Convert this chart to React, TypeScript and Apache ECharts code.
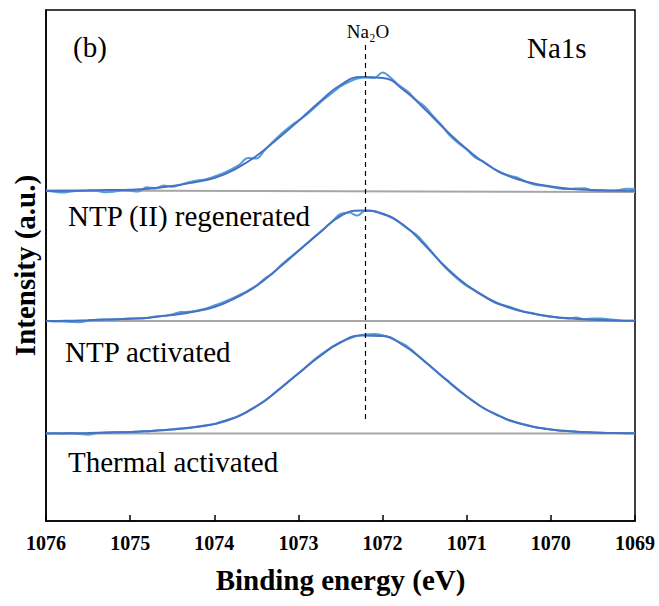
import { useEffect, useRef } from "react";
import * as echarts from "echarts";

// Na 1s XPS spectra, three stacked samples (a.u., each shifted by its baseline offset)
const spectrumNames = ["NTP (II) regenerated", "NTP activated", "Thermal activated"];
const baselineOffsets = [330, 200, 87.5];
// Shirley-type background ends (left at 1076 eV, right at 1069 eV)
const backgroundEnds = [
  [330.5, 329],
  [200, 200],
  [87.5, 87.5],
];
const na2oEnergy = 1072.2;
const xTickLabels = ["1076", "1075", "1074", "1073", "1072", "1071", "1070", "1069"];

// measured energies (0.1 eV step)
const rawEnergy = [
  1076.0, 1075.9, 1075.8, 1075.7, 1075.6, 1075.5, 1075.4, 1075.3, 1075.2, 1075.1,
  1075.0, 1074.9, 1074.8, 1074.7, 1074.6, 1074.5, 1074.4, 1074.3, 1074.2, 1074.1,
  1074.0, 1073.9, 1073.8, 1073.7, 1073.6, 1073.5, 1073.4, 1073.3, 1073.2, 1073.1,
  1073.0, 1072.9, 1072.8, 1072.7, 1072.6, 1072.5, 1072.4, 1072.3, 1072.2, 1072.1,
  1072.0, 1071.9, 1071.8, 1071.7, 1071.6, 1071.5, 1071.4, 1071.3, 1071.2, 1071.1,
  1071.0, 1070.9, 1070.8, 1070.7, 1070.6, 1070.5, 1070.4, 1070.3, 1070.2, 1070.1,
  1070.0, 1069.9, 1069.8, 1069.7, 1069.6, 1069.5, 1069.4, 1069.3, 1069.2, 1069.1,
  1069.0,
];

const rawRegenerated = [
  0.5, -0.8, -1.5, -0.5, 0.3, 0.6, 0.2, -1.2, -0.8, 0.6,
  0.2, -0.5, 3.8, 2.5, 5.6, 4.2, 6.2, 8.8, 10.5, 11.8,
  14.5, 17.5, 21.5, 26.5, 33, 32.5, 41, 49.5, 57.5, 64.5,
  70.5, 76.5, 84, 91.5, 98, 104.5, 109, 112.5, 113.5, 113,
  118.5, 113, 105.5, 99.5, 91, 84.5, 75, 66, 55.5, 48,
  41.5, 33.5, 29.5, 23.5, 18.5, 15.5, 13.5, 9.5, 6.5, 5.5,
  4, 2.5, 2, 2.5, 2.8, 0.2, 0.5, 0.2, 0.8, 2.2,
  2,
];

const rawNtp = [
  0.3, -0.5, -0.6, -1, -1.2, 0.3, 1.2, 1.5, 1.4, 2,
  2.5, 2.4, 3, 4.5, 5.3, 6.5, 9, 9.2, 10.5, 12.5,
  15.5, 18.5, 22, 26, 30.5, 35.5, 42.5, 48, 56.5, 63.5,
  70.5, 77.5, 85, 92, 99.5, 107, 108.5, 105.5, 110.5, 110,
  107.5, 104, 98.5, 92, 86.5, 77.5, 67.5, 57.5, 49, 41.5,
  35, 30.5, 25.5, 20, 16.5, 14.5, 11.5, 9, 7.5, 5.5,
  4.3, 3.3, 2.5, 3.5, 1.8, 2.6, 2.4, 1.5, 0.8, 0.3,
  0.3,
];

const rawThermal = [
  0, 0.2, -0.3, 0.1, -0.6, -1.2, 0.3, 0.9, 1.2, 1.2,
  1.4, 2.1, 2.2, 3, 3.3, 4.2, 4.9, 5.4, 7, 8.3,
  9.4, 12.3, 14.8, 17.6, 22.4, 27.5, 32.6, 39.4, 46.6, 53.5,
  60.3, 67.4, 74.6, 80.8, 86.6, 91.3, 94.8, 97.6, 99, 99.4,
  98.2, 95.3, 91.4, 86.8, 79.6, 72.3, 65, 57.8, 51.1, 44,
  37.2, 31.3, 25.4, 21.3, 17.3, 13.3, 11, 8.8, 6.6, 5.4,
  4.1, 3.1, 2.5, 1.9, 1.2, 1.1, 0.8, 0.4, 0.5, 0.3,
  0.2,
];

// peak-fit envelope energies (0.25 eV step)
const fitEnergy = [
  1076.0, 1075.75, 1075.5, 1075.25, 1075.0, 1074.75, 1074.5, 1074.25, 1074.0, 1073.75,
  1073.5, 1073.25, 1073.0, 1072.75, 1072.5, 1072.25, 1072.0, 1071.75, 1071.5, 1071.25,
  1071.0, 1070.75, 1070.5, 1070.25, 1070.0, 1069.75, 1069.5, 1069.25, 1069.0,
];

const fitRegenerated = [
  0, 0.2, 0.5, 1, 1.3, 2.5, 5, 8.6, 13, 22,
  35, 52, 70, 89, 106, 114, 113, 101, 82, 61,
  42, 26, 15, 8.5, 4.5, 2.1, 1, 0.5, 0.3,
];
const fitNtp = [
  0, 0.2, 0.8, 1.5, 2.2, 3.6, 6, 9.2, 14, 23,
  35, 52, 70, 88, 105, 110.5, 107, 96, 76, 54,
  36, 22.5, 13.5, 8, 4.5, 2.5, 1.2, 0.6, 0.3,
];
const fitThermal = [
  0, 0.2, 0.5, 1, 1.5, 2.6, 4, 6.2, 9.5, 16,
  27, 42.5, 60, 77, 91, 98, 97.5, 88, 72, 54,
  37, 23, 13.5, 7.5, 4, 2.1, 1, 0.45, 0.2,
];

const rawSets = [rawRegenerated, rawNtp, rawThermal];
const fitSets = [fitRegenerated, fitNtp, fitThermal];

const SERIF = "'Liberation Serif', 'Times New Roman', serif";

export default function App() {
  const ref = useRef<HTMLDivElement>(null);

  useEffect(() => {
    if (!ref.current) return;
    const chart = echarts.init(ref.current, undefined, { renderer: "svg" });

    const series: any[] = [];
    spectrumNames.forEach((name, k) => {
      const off = baselineOffsets[k];
      series.push({
        name: name + " background",
        type: "line",
        data: [
          [1076, backgroundEnds[k][0]],
          [1069, backgroundEnds[k][1]],
        ],
        symbol: "none",
        lineStyle: { color: "#a6a6a6", width: 2 },
        z: 1,
      });
      series.push({
        name: name + " raw",
        type: "line",
        data: rawEnergy.map((e, i) => [e, off + rawSets[k][i]]),
        symbol: "none",
        smooth: 0.4,
        lineStyle: { color: "#5b9bd5", width: 2 },
        z: 2,
      });
      series.push({
        name: name + " Na2O",
        type: "line",
        data: fitEnergy.map((e, i) => [e, off + fitSets[k][i]]),
        symbol: "none",
        smooth: true,
        lineStyle: { color: "#c0504d", width: 1, opacity: 0.5 },
        z: 3,
      });
      series.push({
        name: name + " envelope",
        type: "line",
        data: fitEnergy.map((e, i) => [e, off + fitSets[k][i]]),
        symbol: "none",
        smooth: true,
        lineStyle: { color: "#4472c4", width: 2 },
        z: 4,
        markLine:
          k === 0
            ? {
                silent: true,
                symbol: ["none", "none"],
                label: { show: false },
                lineStyle: { color: "#000", width: 1.2, type: [5, 4] },
                data: [
                  [
                    { coord: [na2oEnergy, 476] },
                    { coord: [na2oEnergy, 98] },
                  ],
                ],
              }
            : undefined,
      });
    });

    chart.setOption({
      animation: false,
      backgroundColor: "#fff",
      grid: {
        left: 46,
        top: 10,
        width: 589,
        height: 511,
        show: true,
        borderColor: "#000",
        borderWidth: 1.5,
        outerBoundsMode: "none",
      },
      xAxis: {
        type: "value",
        min: 1069,
        max: 1076,
        interval: 1,
        inverse: true,
        name: "Binding energy (eV)",
        nameLocation: "middle",
        nameGap: 44,
        nameTextStyle: {
          fontFamily: SERIF,
          fontWeight: "bold",
          fontSize: 29,
          color: "#000",
        },
        axisLine: { show: true, lineStyle: { color: "#000", width: 1.5 } },
        axisTick: { show: true, inside: true, length: 6, lineStyle: { color: "#000", width: 1.5 } },
        axisLabel: {
          margin: 12,
          fontFamily: SERIF,
          fontWeight: "bold",
          fontSize: 20,
          color: "#000",
          formatter: (v: number) => xTickLabels[1076 - Math.round(v)],
        },
        splitLine: { show: false },
      },
      yAxis: {
        type: "value",
        min: 0,
        max: 511,
        name: "Intensity (a.u.)",
        nameLocation: "middle",
        nameGap: 7,
        nameTextStyle: {
          fontFamily: SERIF,
          fontWeight: "bold",
          fontSize: 29,
          color: "#000",
        },
        axisLine: { show: true, lineStyle: { color: "#000", width: 1.5 } },
        axisTick: { show: false },
        axisLabel: { show: false },
        splitLine: { show: false },
      },
      graphic: [
        {
          type: "text",
          x: 73,
          y: 47,
          style: { text: "(b)", fontFamily: SERIF, fontSize: 29, fill: "#000", align: "left", verticalAlign: "middle" },
        },
        {
          type: "text",
          x: 527,
          y: 48,
          style: { text: "Na1s", fontFamily: SERIF, fontSize: 29, fill: "#000", align: "left", verticalAlign: "middle" },
        },
        {
          type: "text",
          x: 368,
          y: 31,
          style: { text: "Na₂O", fontFamily: SERIF, fontSize: 19, fill: "#000", align: "center", verticalAlign: "middle" },
        },
        {
          type: "text",
          x: 68,
          y: 216,
          style: { text: spectrumNames[0], fontFamily: SERIF, fontSize: 29, fill: "#000", align: "left", verticalAlign: "middle" },
        },
        {
          type: "text",
          x: 65,
          y: 352,
          style: { text: spectrumNames[1], fontFamily: SERIF, fontSize: 29, fill: "#000", align: "left", verticalAlign: "middle" },
        },
        {
          type: "text",
          x: 68,
          y: 462,
          style: { text: spectrumNames[2], fontFamily: SERIF, fontSize: 29, fill: "#000", align: "left", verticalAlign: "middle" },
        },
      ],
      series,
    });

    return () => chart.dispose();
  }, []);

  return <div ref={ref} style={{ width: 659, height: 606, position: "absolute", left: 0, top: 0 }} />;
}
